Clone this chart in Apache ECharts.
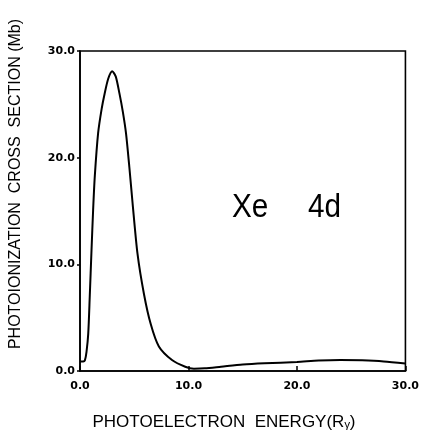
<!DOCTYPE html>
<html>
<head>
<meta charset="utf-8">
<script src="https://cdn.jsdelivr.net/npm/echarts@6/dist/echarts.min.js"></script>
<style>
  html, body { margin: 0; padding: 0; background: #fff; }
  #chart { width: 422px; height: 431px; }
</style>
</head>
<body>
<div id="chart"></div>
<script>
// Xe 4d photoionization cross section vs photoelectron energy
const energy = [0, 0.3, 0.45, 0.6, 0.76, 0.9, 1.06, 1.21, 1.36, 1.67, 2.0, 2.27, 2.6, 2.97, 3.3, 3.64, 3.95, 4.24, 4.55, 4.85, 5.3, 5.9, 6.52, 7.27, 8.48, 9.7, 10.5, 11.5, 13, 15, 17, 20, 22, 24, 26, 28, 30];
const crossSection = [0.9, 0.9, 1.0, 1.8, 3.5, 7.0, 11.3, 15.1, 18.2, 22.3, 24.6, 26.0, 27.4, 28.1, 27.6, 26.0, 24.3, 22.3, 19.1, 15.7, 11.0, 7.2, 4.4, 2.3, 1.03, 0.4, 0.22, 0.25, 0.4, 0.6, 0.72, 0.85, 0.98, 1.03, 1.0, 0.9, 0.7];
const xTicks = [0, 10, 20, 30];
const yTicks = [0, 10, 20, 30];
const xTitle = 'PHOTOELECTRON  ENERGY(R\u1d67)';
const yTitle = 'PHOTOIONIZATION  CROSS  SECTION (Mb)';
const element = 'Xe';
const shell = '4d';

const points = energy.map((e, i) => [e, crossSection[i]]);

const chart = echarts.init(document.getElementById('chart'), null, { renderer: 'canvas' });

const tickFont = { fontFamily: 'DejaVu Sans', fontSize: 11, fontWeight: 'bold', color: '#000' };

chart.setOption({
  animation: false,
  backgroundColor: '#fff',
  grid: { left: 80, right: 13, top: 51, bottom: 60, show: true, borderColor: '#000', borderWidth: 1.6, backgroundColor: 'transparent' },
  xAxis: {
    type: 'value',
    min: xTicks[0], max: xTicks[xTicks.length - 1], interval: 10,
    axisLine: { show: true, lineStyle: { color: '#000', width: 1.6 } },
    axisTick: { show: true, inside: true, length: 5, lineStyle: { color: '#000', width: 1.5 } },
    splitLine: { show: false },
    axisLabel: Object.assign({ margin: 10, formatter: v => v.toFixed(1) }, tickFont)
  },
  yAxis: {
    type: 'value',
    min: yTicks[0], max: yTicks[yTicks.length - 1], interval: 10,
    axisLine: { show: true, lineStyle: { color: '#000', width: 1.6 } },
    axisTick: { show: true, inside: false, length: 3, lineStyle: { color: '#000', width: 1.5 } },
    splitLine: { show: false },
    axisLabel: Object.assign({ margin: 5, formatter: v => v.toFixed(1) }, tickFont)
  },
  graphic: [
    {
      type: 'text', x: 224, y: 422,
      style: { text: xTitle, fontFamily: 'Liberation Sans', fontSize: 17, fill: '#000', align: 'center', verticalAlign: 'middle' }
    },
    {
      type: 'text', x: 16, y: 184, rotation: Math.PI / 2,
      style: { text: yTitle, fontFamily: 'Liberation Sans', fontSize: 16, fill: '#000', align: 'center', verticalAlign: 'middle' }
    },
    {
      type: 'text', x: 232, y: 191, scaleX: 0.9,
      style: { text: element, fontFamily: 'Liberation Sans', fontSize: 33, fill: '#000', align: 'left', verticalAlign: 'top' }
    },
    {
      type: 'text', x: 308, y: 191, scaleX: 0.9,
      style: { text: shell, fontFamily: 'Liberation Sans', fontSize: 33, fill: '#000', align: 'left', verticalAlign: 'top' }
    }
  ],
  series: [{
    type: 'line',
    data: points,
    smooth: 0.25,
    showSymbol: false,
    lineStyle: { color: '#000', width: 2 }
  }]
});
</script>
</body>
</html>
